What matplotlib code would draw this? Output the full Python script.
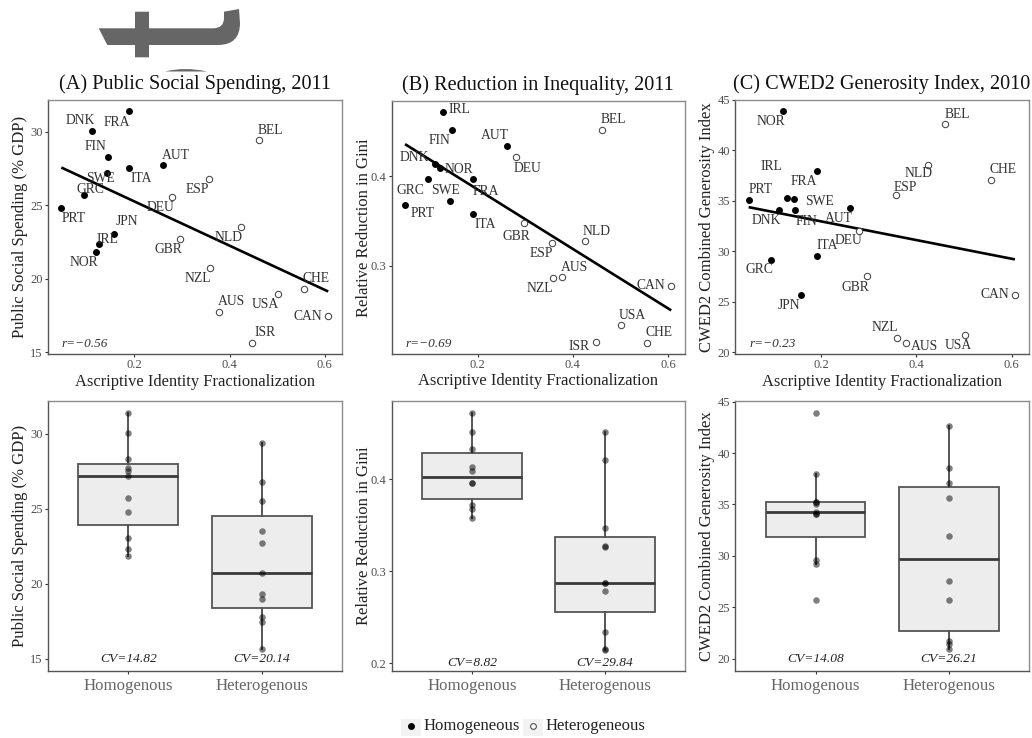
import numpy as np
import matplotlib
matplotlib.use("Agg")
import matplotlib.pyplot as plt
from matplotlib.path import Path
from matplotlib.patches import PathPatch, Rectangle

plt.rcParams['font.family'] = ['Liberation Serif', 'DejaVu Serif']

COUNTRIES = ["PRT", "GRC", "DNK", "NOR", "IRL", "SWE", "FIN", "JPN", "ITA", "FRA", "AUT",
             "DEU", "GBR", "ESP", "NZL", "AUS", "NLD", "ISR", "BEL", "USA", "CHE", "CAN"]
HOMOGENEOUS = ["PRT", "GRC", "DNK", "NOR", "IRL", "SWE", "FIN", "JPN", "ITA", "FRA", "AUT"]
FRACTIONALIZATION = [0.047, 0.095, 0.111, 0.120, 0.127, 0.142, 0.145, 0.157, 0.190, 0.190, 0.261,
                     0.280, 0.297, 0.357, 0.359, 0.378, 0.425, 0.448, 0.461, 0.501, 0.557, 0.607]
SPENDING = [24.80, 25.70, 30.05, 21.82, 22.34, 27.20, 28.30, 23.07, 27.53, 31.38, 27.70,
            25.54, 22.73, 26.78, 20.73, 17.76, 23.50, 15.63, 29.41, 18.99, 19.33, 17.45]
GINI = [0.368, 0.3963, 0.413, 0.409, 0.4715, 0.372, 0.451, np.nan, 0.358, 0.3963, 0.4333,
        0.4207, 0.3474, 0.3259, 0.2867, 0.2874, 0.3274, 0.2159, 0.4515, 0.2341, 0.2144, 0.2781]
CWED = [35.08, 29.19, 34.09, 43.88, 35.28, 35.21, 34.09, 25.69, 29.59, 37.99, 34.29,
        31.97, 27.51, 35.61, 21.39, 20.93, 38.58, np.nan, 42.59, 21.72, 37.10, 25.69]

GROUP_LABELS = ["Homogenous", "Heterogenous"]
XTICKS = [0.2, 0.4, 0.6]
YTICKS_A = [15, 20, 25, 30]
YTICKS_B = [0.3, 0.4]
YTICKS_B_BOX = [0.2, 0.3, 0.4]
YTICKS_C = [20, 25, 30, 35, 40, 45]
R_TEXT = ["r=\u22120.56", "r=\u22120.69", "r=\u22120.23"]
CV_A = ["CV=14.82", "CV=20.14"]
CV_B = ["CV=8.82", "CV=29.84"]
CV_C = ["CV=14.08", "CV=26.21"]

# label offsets (reference pixels x 3, screen-down)
OFF_A = dict(DNK=(-36,-31), FRA=(-37,33), FIN=(-36,-31), AUT=(37,-30), BEL=(36,-29), SWE=(-18,17),
             ITA=(35,32), ESP=(-36,32), GRC=(19,-17), DEU=(-36,31), PRT=(37,32), JPN=(39,-35),
             IRL=(23,-15), NLD=(-37,32), GBR=(-37,32), NOR=(-37,32), NZL=(-36,32), CHE=(36,-30),
             AUS=(37,-31), USA=(-37,32), CAN=(-60,0), ISR=(37,-31))
OFF_B = dict(IRL=(50,-8), FIN=(-37,32), AUT=(-36,-31), BEL=(36,-30), DEU=(36,32), DNK=(-64,-19),
             NOR=(59,4), GRC=(-53,33), FRA=(38,35), SWE=(-13,-31), PRT=(54,26), ITA=(36,31),
             GBR=(-22,40), NLD=(36,-30), ESP=(-34,33), AUS=(36,-31), NZL=(-41,32), CAN=(-61,0),
             USA=(35,-30), CHE=(36,-31), ISR=(-50,13))
OFF_C = dict(NOR=(-36,31), BEL=(36,-30), NLD=(-28,25), IRL=(-44,-95), CHE=(36,-31), FRA=(-37,32),
             PRT=(36,-31), ESP=(28,-23), SWE=(77,8), DNK=(-37,32), FIN=(34,33), AUT=(-36,32),
             DEU=(-32,28), ITA=(32,-29), GRC=(-37,31), GBR=(-36,32), CAN=(-61,0), JPN=(-36,32),
             NZL=(-36,-32), AUS=(56,10), USA=(-17,32))

W, H = 1032, 738
fig = plt.figure(figsize=(W/100, H/100), dpi=100, facecolor='white')


def add_axes(l, r, t, b):
    return fig.add_axes([l/W, 1-b/H, (r-l)/W, (b-t)/H])


def style(ax, yticks, fmt):
    for s in ax.spines.values():
        s.set_linewidth(1.0)
        s.set_color('#8c8c8c')
    ax.spines['left'].set_color('#555555')
    ax.spines['bottom'].set_color('#555555')
    ax.set_yticks(yticks)
    ax.set_yticklabels([fmt % v for v in yticks])
    ax.tick_params(axis='both', length=2.2, width=0.8, color='#333333',
                   labelcolor='#4d4d4d', labelsize=9, pad=1.5)


def scatter_panel(ax, yvals, offsets, title, ylabel, rtext, xlim, ylim, yticks, fmt):
    x = np.array(FRACTIONALIZATION)
    y = np.array(yvals, dtype=float)
    ok = ~np.isnan(y)
    homog = np.array([c in HOMOGENEOUS for c in COUNTRIES])
    ax.set_xlim(xlim)
    ax.set_ylim(ylim)
    b, a = np.polyfit(x[ok], y[ok], 1)
    xs = np.array([x[ok].min(), x[ok].max()])
    ax.plot(xs, a+b*xs, color='black', lw=1.9, zorder=2, solid_capstyle='butt')
    ax.scatter(x[ok & homog], y[ok & homog], s=25, c='black', linewidths=0, zorder=3)
    ax.scatter(x[ok & ~homog], y[ok & ~homog], s=21, facecolors='white', edgecolors='#444444',
               linewidths=0.75, zorder=3)
    for c, xi, yi in zip(COUNTRIES, x, y):
        if np.isnan(yi):
            continue
        dx, dy = offsets[c]
        ax.annotate(c, (xi, yi), xytext=(dx/3, -dy/3), textcoords='offset pixels',
                    ha='center', va='center', fontsize=9.8, color='#333333', zorder=4)
    style(ax, yticks, fmt)
    ax.set_xticks(XTICKS)
    ax.set_xticklabels(['%.1f' % v for v in XTICKS])
    ax.set_title(title, fontsize=14.55, pad=0, color='#111111', y=1.0+5.5/254, va='bottom')
    ax.set_xlabel('Ascriptive Identity Fractionalization', fontsize=11.9, color='#222222', va='center')
    ax.set_ylabel(ylabel, fontsize=11.95, color='#222222', va='center')
    ax.xaxis.set_label_coords(0.5, -27.5/254)
    ax.yaxis.set_label_coords(-28/293, 0.5)
    ax.text(0.047, 0.038, rtext, transform=ax.transAxes, style='italic', fontsize=9.5,
            color='#333333', ha='left', va='center')


def box_panel(ax, yvals, ylabel, cv, cvy, ylim, yticks, fmt):
    y = np.array(yvals, dtype=float)
    homog = np.array([c in HOMOGENEOUS for c in COUNTRIES])
    ok = ~np.isnan(y)
    groups = [y[ok & homog], y[ok & ~homog]]
    edge = '#555555'
    ax.boxplot(groups, positions=[1, 2], widths=0.75, patch_artist=True, showcaps=False,
               showfliers=False, whis=1.5,
               boxprops=dict(facecolor='#EDEDED', edgecolor=edge, linewidth=1.3),
               whiskerprops=dict(color=edge, linewidth=1.4),
               medianprops=dict(color='#3a3a3a', linewidth=2.0, solid_capstyle='butt'))
    for i, g in enumerate(groups):
        ax.scatter([i+1]*len(g), g, s=22, c='black', alpha=0.5, linewidths=0, zorder=5)
        ax.text(i+1, cvy, cv[i], style='italic', fontsize=9.7, color='#222222', ha='center', va='center')
    ax.set_xlim(0.398, 2.6)
    ax.set_ylim(ylim)
    style(ax, yticks, fmt)
    ax.set_xticks([1, 2])
    ax.set_xticklabels(GROUP_LABELS)
    ax.tick_params(axis='x', labelsize=12.1, labelcolor='#666666', pad=2.5)
    ax.set_ylabel(ylabel, fontsize=11.95, color='#222222', va='center')
    ax.yaxis.set_label_coords(-28/293, 0.5)


# decoration behind the first title
deco = fig.add_axes([0, 0, 1, 1], zorder=-1)
deco.set_xlim(0, W)
deco.set_ylim(H, 0)
deco.axis('off')
glyph = Path(
    [(98.7, 28.3), (135, 28.3), (135, 11.7), (149, 11.7), (149, 28.3), (213, 28.3),
     (224, 28.3), (224, 18), (224, 11.7), (239, 9), (240, 23), (240, 45), (218, 45),
     (149, 45), (149, 57.3), (135, 57.3), (135, 45), (107.3, 45), (98.7, 28.3)],
    [Path.MOVETO, Path.LINETO, Path.LINETO, Path.LINETO, Path.LINETO, Path.LINETO,
     Path.CURVE3, Path.CURVE3, Path.LINETO, Path.LINETO, Path.LINETO, Path.CURVE3, Path.CURVE3,
     Path.LINETO, Path.LINETO, Path.LINETO, Path.LINETO, Path.LINETO, Path.CLOSEPOLY])
deco.add_patch(PathPatch(glyph, facecolor='#666666', edgecolor='none'))
arc = Path([(165, 71.5), (185, 66.5), (207, 71.5), (165, 71.5)],
           [Path.MOVETO, Path.CURVE3, Path.CURVE3, Path.CLOSEPOLY])
deco.add_patch(PathPatch(arc, facecolor='#666666', edgecolor='none'))

TOP = [(48, 342), (391.7, 685), (735.3, 1028.7)]

a1 = add_axes(*TOP[0], 100, 354)
scatter_panel(a1, SPENDING, OFF_A, "(A) Public Social Spending, 2011", "Public Social Spending (% GDP)",
              R_TEXT[0], (0.019, 0.636), (14.88, 32.15), YTICKS_A, '%d')
a2 = add_axes(*TOP[1], 100.7, 354)
scatter_panel(a2, GINI, OFF_B, "(B) Reduction in Inequality, 2011", "Relative Reduction in Gini",
              R_TEXT[1], (0.019, 0.636), (0.2022, 0.4837), YTICKS_B, '%.1f')
a3 = add_axes(*TOP[2], 100, 354)
scatter_panel(a3, CWED, OFF_C, "(C) CWED2 Generosity Index, 2010", "CWED2 Combined Generosity Index",
              R_TEXT[2], (0.019, 0.636), (19.83, 45.0), YTICKS_C, '%d')

b1 = add_axes(*TOP[0], 401, 671)
box_panel(b1, SPENDING, "Public Social Spending (% GDP)", CV_A, 15, (14.18, 32.18), YTICKS_A, '%d')
b2 = add_axes(*TOP[1], 401, 671)
box_panel(b2, GINI, "Relative Reduction in Gini", CV_B, 0.2, (0.1916, 0.485), YTICKS_B_BOX, '%.1f')
b3 = add_axes(*TOP[2], 401, 671)
box_panel(b3, CWED, "CWED2 Combined Generosity Index", CV_C, 20, (18.8, 45.07), YTICKS_C, '%d')

# legend
deco.add_patch(Rectangle((401, 718.5), 19.5, 17.5, facecolor='#F2F2F2', edgecolor='none'))
deco.add_patch(Rectangle((523, 718.5), 19.5, 17.5, facecolor='#F2F2F2', edgecolor='none'))
deco.scatter([410.5], [726], s=25, c='black', linewidths=0)
deco.scatter([532.5], [726], s=17, facecolors='white', edgecolors='#444444', linewidths=0.75)
deco.text(423.7, 726, "Homogeneous", fontsize=12, color='#222222', ha='left', va='center')
deco.text(546, 726, "Heterogeneous", fontsize=12, color='#222222', ha='left', va='center')

fig.savefig('out.png', dpi=100)
